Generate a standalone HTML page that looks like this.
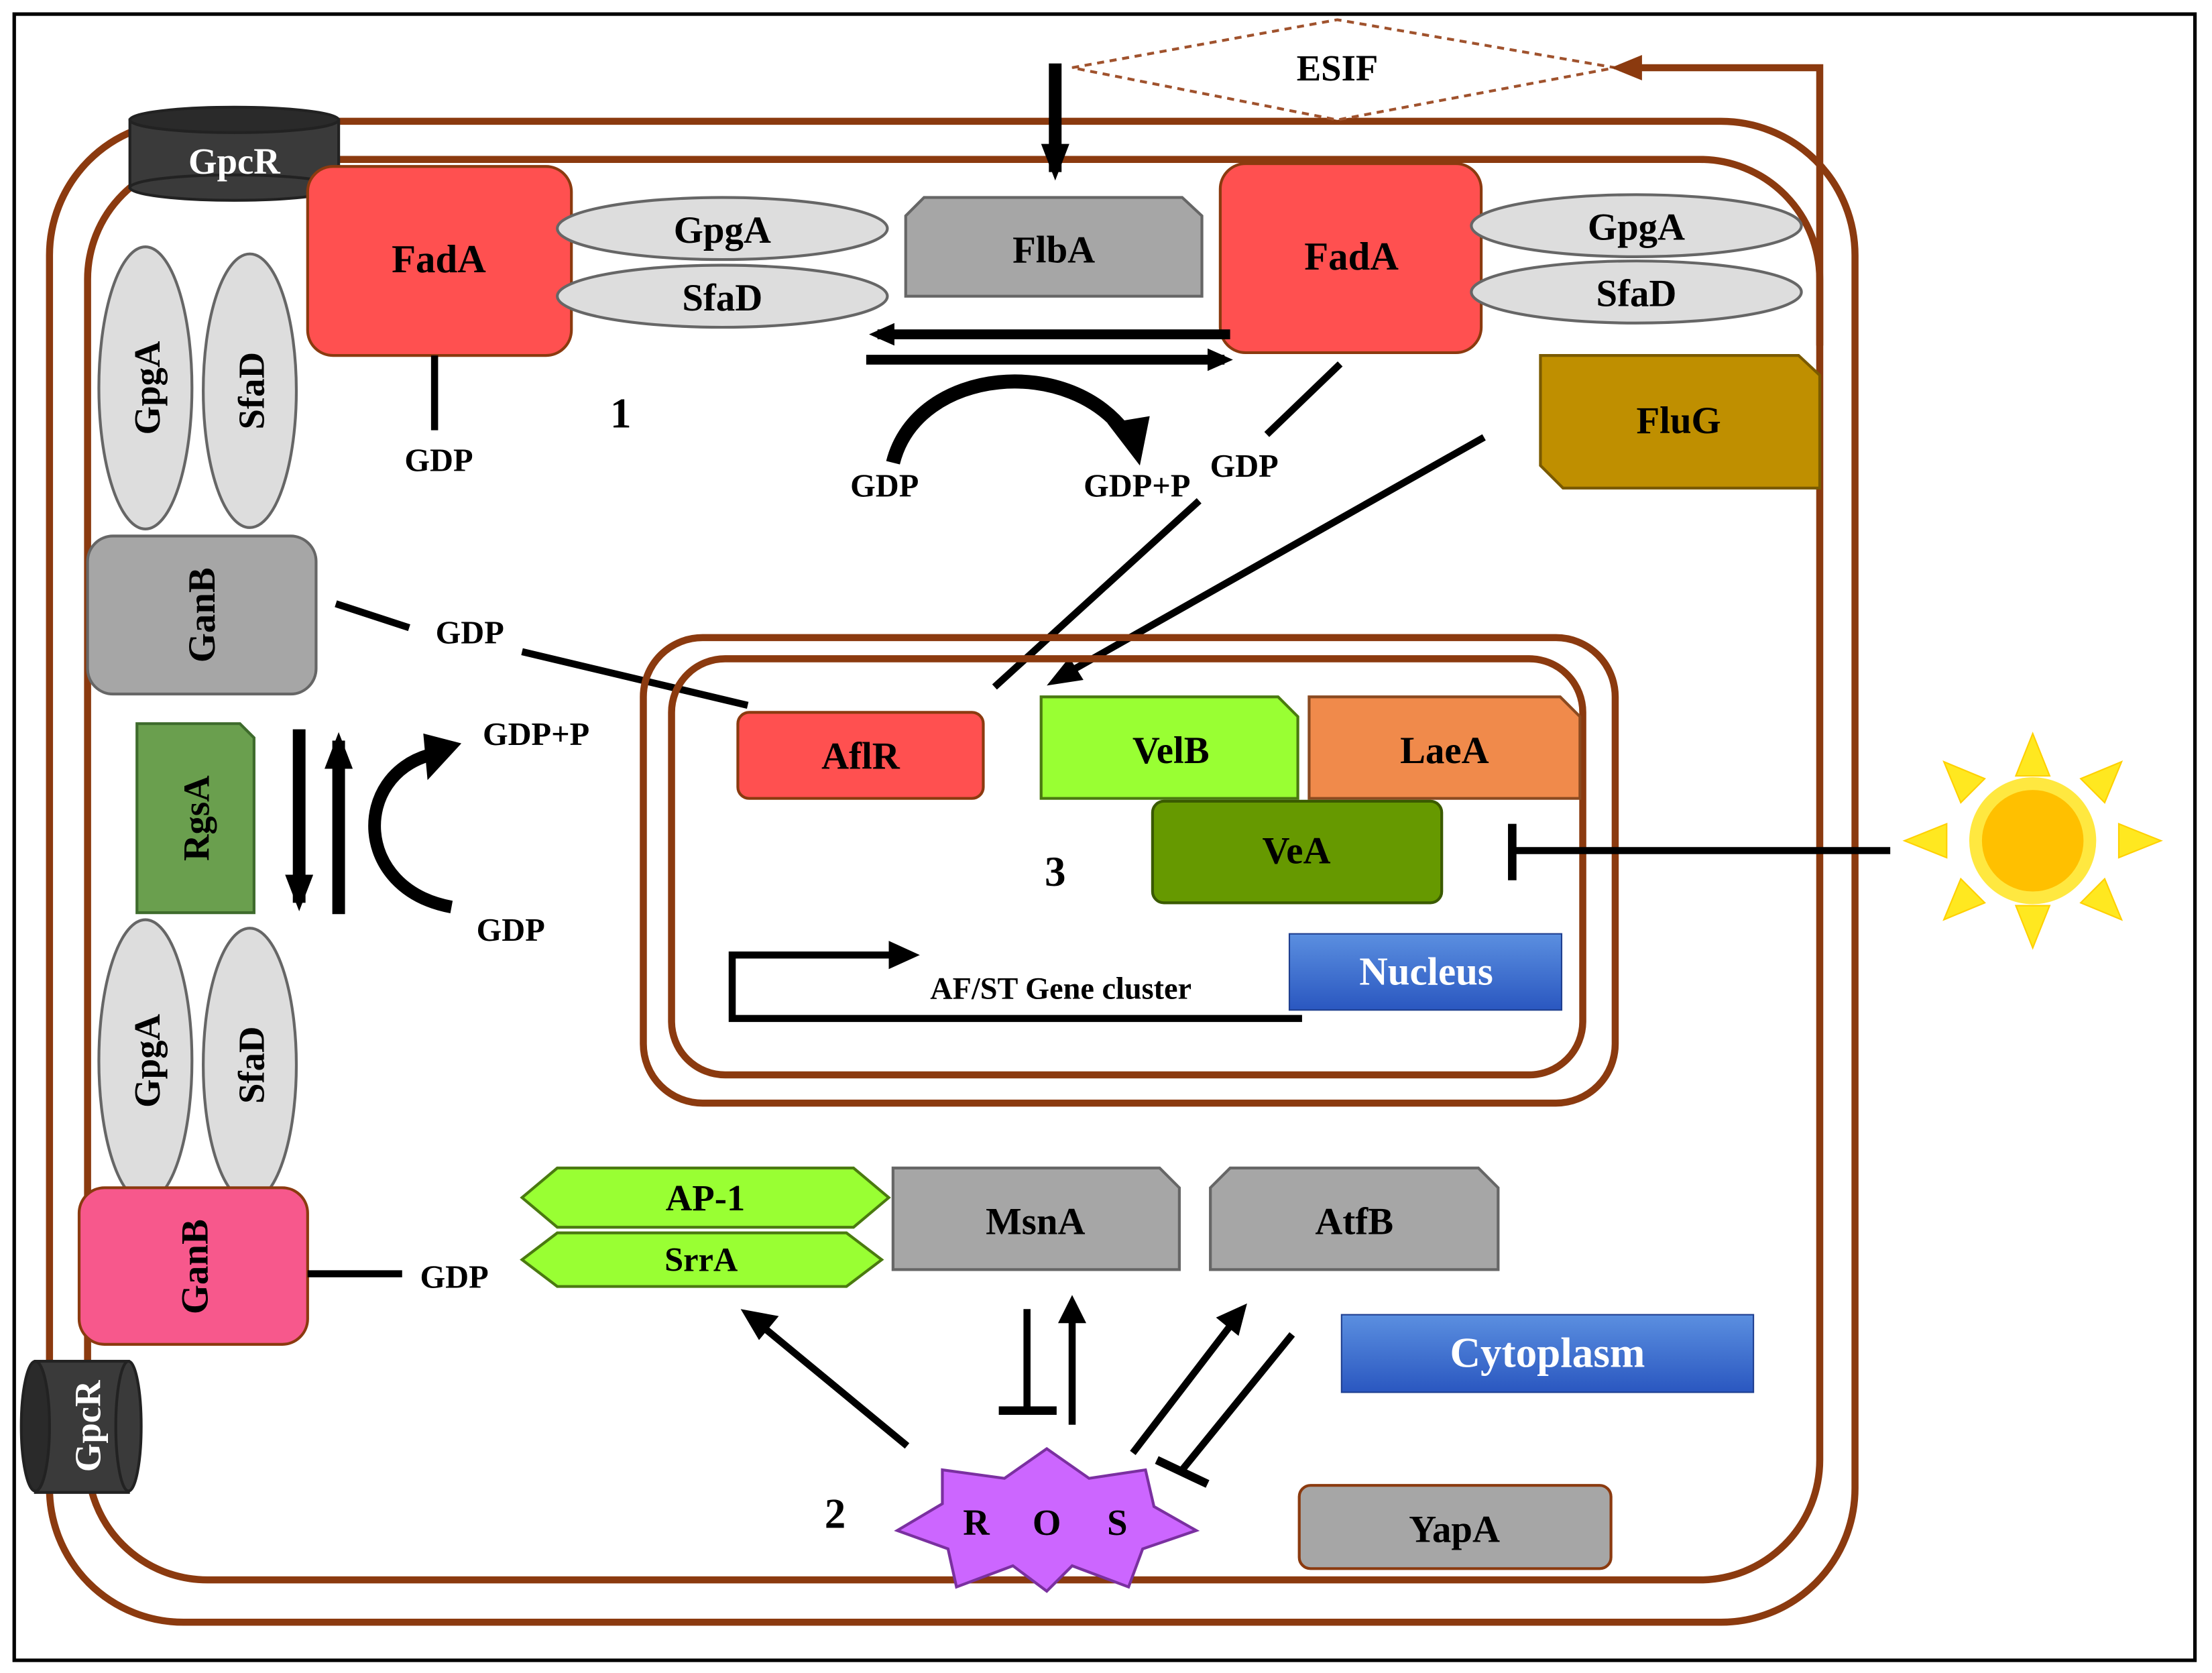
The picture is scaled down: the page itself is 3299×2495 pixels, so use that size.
<!DOCTYPE html>
<html><head><meta charset="utf-8"><style>html,body{margin:0;padding:0;background:#fff}svg{display:block}</style></head>
<body>
<svg width="3299" height="2495" viewBox="0 0 1568 1186" xmlns="http://www.w3.org/2000/svg" font-family="Liberation Serif, serif" font-weight="bold">
<defs>
<marker id="ah" markerWidth="10" markerHeight="10" refX="7" refY="5" orient="auto" markerUnits="userSpaceOnUse"><path d="M0,0 L10,5 L0,10 z" fill="#000"/></marker>
<marker id="ahm" markerWidth="18" markerHeight="16" refX="12" refY="8" orient="auto" markerUnits="userSpaceOnUse"><path d="M0,0 L18,8 L0,16 z" fill="#000"/></marker>
<marker id="ahb" markerWidth="26" markerHeight="20" refX="20" refY="10" orient="auto" markerUnits="userSpaceOnUse"><path d="M0,0 L26,10 L0,20 z" fill="#000"/></marker>
<marker id="ahbr" markerWidth="22" markerHeight="18" refX="16" refY="9" orient="auto" markerUnits="userSpaceOnUse"><path d="M0,0 L22,9 L0,18 z" fill="#8b3a0f"/></marker>
<linearGradient id="bl" x1="0" y1="0" x2="0" y2="1"><stop offset="0" stop-color="#5b8fe0"/><stop offset="1" stop-color="#2a57c0"/></linearGradient>
</defs>
<rect x="0" y="0" width="1568" height="1186" fill="#fff"/>
<rect x="10" y="10" width="1546" height="1167" fill="none" stroke="#000" stroke-width="2.5"/>
<rect x="35" y="86" width="1280" height="1064" rx="95" fill="none" stroke="#8b3a0f" stroke-width="5"/>
<rect x="62" y="113" width="1228" height="1007" rx="85" fill="none" stroke="#8b3a0f" stroke-width="5"/>
<polygon points="760,48 948,14 1145,48 948,85" fill="#fff" stroke="#a0522d" stroke-width="2" stroke-dasharray="5,4"/>
<text x="948" y="57" font-size="26" text-anchor="middle">ESIF</text>
<polyline points="1290,245 1290,48 1148,48" fill="none" stroke="#8b3a0f" stroke-width="5" marker-end="url(#ahbr)"/>
<line x1="748" y1="45" x2="748" y2="122" stroke="#000" stroke-width="9" marker-end="url(#ahb)"/>
<g>
<rect x="92" y="85" width="148" height="48" fill="#3a3a3a" stroke="#222" stroke-width="2"/>
<ellipse cx="166" cy="133" rx="74" ry="9" fill="#3a3a3a" stroke="#222" stroke-width="2"/>
<ellipse cx="166" cy="85" rx="74" ry="9" fill="#2a2a2a" stroke="#222" stroke-width="2"/>
<text x="166" y="123" font-size="26" fill="#fff" text-anchor="middle">GpcR</text>
</g>
<rect x="218" y="118" width="187" height="134" rx="18" fill="#ff5050" stroke="#8b3a0f" stroke-width="2"/>
<text x="311" y="193" font-size="28" text-anchor="middle">FadA</text>
<ellipse cx="512" cy="162" rx="117" ry="22" fill="#ddd" stroke="#666" stroke-width="2"/>
<text x="512" y="172" font-size="27" text-anchor="middle">GpgA</text>
<ellipse cx="512" cy="210" rx="117" ry="22" fill="#ddd" stroke="#666" stroke-width="2"/>
<text x="512" y="220" font-size="27" text-anchor="middle">SfaD</text>
<line x1="308" y1="252" x2="308" y2="305" stroke="#000" stroke-width="5"/>
<text x="311" y="334" font-size="23" text-anchor="middle">GDP</text>
<text x="440" y="303" font-size="30" text-anchor="middle">1</text>
<polygon points="655,140 838,140 852,153 852,210 642,210 642,153" fill="#a6a6a6" stroke="#666" stroke-width="2"/>
<text x="747" y="186" font-size="27" text-anchor="middle">FlbA</text>
<rect x="865" y="116" width="185" height="134" rx="18" fill="#ff5050" stroke="#8b3a0f" stroke-width="2"/>
<text x="958" y="191" font-size="28" text-anchor="middle">FadA</text>
<ellipse cx="1160" cy="160" rx="117" ry="22" fill="#ddd" stroke="#666" stroke-width="2"/>
<text x="1160" y="170" font-size="27" text-anchor="middle">GpgA</text>
<ellipse cx="1160" cy="207" rx="117" ry="22" fill="#ddd" stroke="#666" stroke-width="2"/>
<text x="1160" y="217" font-size="27" text-anchor="middle">SfaD</text>
<polygon points="1092,252 1275,252 1290,266 1290,346 1108,346 1092,330" fill="#bf8f00" stroke="#7a5a00" stroke-width="2"/>
<text x="1190" y="307" font-size="27" text-anchor="middle">FluG</text>
<line x1="872" y1="237" x2="622" y2="237" stroke="#000" stroke-width="7" marker-end="url(#ahm)"/>
<line x1="614" y1="255" x2="868" y2="255" stroke="#000" stroke-width="7" marker-end="url(#ahm)"/>
<path d="M633,328 C650,260 760,250 800,310" fill="none" stroke="#000" stroke-width="10"/>
<polygon points="785,300 815,295 808,330" fill="#000"/>
<text x="627" y="352" font-size="23" text-anchor="middle">GDP</text>
<text x="806" y="352" font-size="23" text-anchor="middle">GDP+P</text>
<text x="882" y="338" font-size="23" text-anchor="middle">GDP</text>
<line x1="950" y1="258" x2="898" y2="308" stroke="#000" stroke-width="5"/>
<line x1="850" y1="355" x2="705" y2="487" stroke="#000" stroke-width="5"/>
<line x1="1052" y1="310" x2="755" y2="478" stroke="#000" stroke-width="5"/>
<polygon points="742,486 758,466 768,482" fill="#000"/>
<ellipse cx="103" cy="275" rx="33" ry="100" fill="#ddd" stroke="#666" stroke-width="2"/>
<text transform="translate(113,275) rotate(-90)" font-size="26" text-anchor="middle">GpgA</text>
<ellipse cx="177" cy="277" rx="33" ry="97" fill="#ddd" stroke="#666" stroke-width="2"/>
<text transform="translate(187,277) rotate(-90)" font-size="26" text-anchor="middle">SfaD</text>
<rect x="62" y="380" width="162" height="112" rx="18" fill="#a6a6a6" stroke="#666" stroke-width="2"/>
<text transform="translate(152,436) rotate(-90)" font-size="27" text-anchor="middle">GanB</text>
<line x1="238" y1="428" x2="290" y2="445" stroke="#000" stroke-width="5"/>
<text x="333" y="456" font-size="23" text-anchor="middle">GDP</text>
<line x1="370" y1="462" x2="530" y2="500" stroke="#000" stroke-width="5"/>
<polygon points="97,513 170,513 180,523 180,647 97,647" fill="#6a9f4e" stroke="#3e6b2c" stroke-width="2"/>
<text transform="translate(148,580) rotate(-90)" font-size="26" text-anchor="middle">RgsA</text>
<line x1="212" y1="517" x2="212" y2="640" stroke="#000" stroke-width="9" marker-end="url(#ahb)"/>
<line x1="240" y1="648" x2="240" y2="525" stroke="#000" stroke-width="9" marker-end="url(#ahb)"/>
<path d="M320,643 C250,630 250,550 305,535" fill="none" stroke="#000" stroke-width="9"/>
<polygon points="300,520 327,527 303,553" fill="#000"/>
<text x="380" y="528" font-size="23" text-anchor="middle">GDP+P</text>
<text x="362" y="667" font-size="23" text-anchor="middle">GDP</text>
<ellipse cx="103" cy="752" rx="33" ry="100" fill="#ddd" stroke="#666" stroke-width="2"/>
<text transform="translate(113,752) rotate(-90)" font-size="26" text-anchor="middle">GpgA</text>
<ellipse cx="177" cy="755" rx="33" ry="97" fill="#ddd" stroke="#666" stroke-width="2"/>
<text transform="translate(187,755) rotate(-90)" font-size="26" text-anchor="middle">SfaD</text>
<rect x="56" y="842" width="162" height="111" rx="18" fill="#f7588c" stroke="#8b3a0f" stroke-width="2"/>
<text transform="translate(147,898) rotate(-90)" font-size="27" text-anchor="middle">GanB</text>
<line x1="218" y1="903" x2="285" y2="903" stroke="#000" stroke-width="5"/>
<text x="322" y="913" font-size="23" text-anchor="middle">GDP</text>
<g>
<rect x="25" y="965" width="66" height="93" fill="#3a3a3a" stroke="#222" stroke-width="2"/>
<ellipse cx="91" cy="1011" rx="9" ry="46" fill="#3a3a3a" stroke="#222" stroke-width="2"/>
<ellipse cx="25" cy="1011" rx="10" ry="46" fill="#2a2a2a" stroke="#222" stroke-width="2"/>
<text transform="translate(71,1011) rotate(-90)" font-size="26" fill="#fff" text-anchor="middle">GpcR</text>
</g>
<rect x="456" y="452" width="689" height="330" rx="42" fill="none" stroke="#8b3a0f" stroke-width="5"/>
<rect x="476" y="467" width="646" height="295" rx="38" fill="none" stroke="#8b3a0f" stroke-width="5"/>
<rect x="523" y="505" width="174" height="61" rx="8" fill="#ff5050" stroke="#8b3a0f" stroke-width="2"/>
<text x="610" y="545" font-size="27" text-anchor="middle">AflR</text>
<polygon points="738,494 906,494 920,508 920,566 738,566" fill="#99ff33" stroke="#4a7a10" stroke-width="2"/>
<text x="830" y="541" font-size="27" text-anchor="middle">VelB</text>
<polygon points="928,494 1106,494 1120,508 1120,566 928,566" fill="#f08a4b" stroke="#8b4a20" stroke-width="2"/>
<text x="1024" y="541" font-size="27" text-anchor="middle">LaeA</text>
<rect x="817" y="568" width="205" height="72" rx="8" fill="#669900" stroke="#3a5a00" stroke-width="2"/>
<text x="919" y="612" font-size="27" text-anchor="middle">VeA</text>
<text x="748" y="628" font-size="30" text-anchor="middle">3</text>
<polyline points="923,722 519,722 519,677 635,677" fill="none" stroke="#000" stroke-width="5"/>
<polygon points="630,667 652,677 630,687" fill="#000"/>
<text x="752" y="708" font-size="22" text-anchor="middle">AF/ST Gene cluster</text>
<rect x="914" y="662" width="193" height="54" fill="url(#bl)" stroke="#1f3f90" stroke-width="1"/>
<text x="1011" y="698" font-size="28" fill="#fff" text-anchor="middle">Nucleus</text>
<line x1="1340" y1="603" x2="1072" y2="603" stroke="#000" stroke-width="5"/>
<line x1="1072" y1="584" x2="1072" y2="624" stroke="#000" stroke-width="6"/>
<g fill="#ffe820" stroke="#ffd000" stroke-width="1">
<polygon points="1441,520 1453,550 1429,550"/>
<polygon points="1441,672 1453,642 1429,642"/>
<polygon points="1350,596 1380,584 1380,608"/>
<polygon points="1532,596 1502,584 1502,608"/>
<polygon points="1378,540 1407,552 1390,569"/>
<polygon points="1504,540 1475,552 1492,569"/>
<polygon points="1378,652 1407,640 1390,623"/>
<polygon points="1504,652 1475,640 1492,623"/>
</g>
<circle cx="1441" cy="596" r="45" fill="#ffe840"/>
<circle cx="1441" cy="596" r="36" fill="#ffc000"/>
<polygon points="395,828 605,828 630,849 605,870 395,870 370,849" fill="#99ff33" stroke="#4a7a10" stroke-width="2"/>
<text x="500" y="858" font-size="26" text-anchor="middle">AP-1</text>
<polygon points="395,874 600,874 625,893 600,912 395,912 370,893" fill="#99ff33" stroke="#4a7a10" stroke-width="2"/>
<text x="497" y="901" font-size="24" text-anchor="middle">SrrA</text>
<polygon points="633,828 822,828 836,842 836,900 633,900" fill="#a6a6a6" stroke="#666" stroke-width="2"/>
<text x="734" y="875" font-size="27" text-anchor="middle">MsnA</text>
<polygon points="872,828 1048,828 1062,842 1062,900 858,900 858,842" fill="#a6a6a6" stroke="#666" stroke-width="2"/>
<text x="960" y="875" font-size="27" text-anchor="middle">AtfB</text>
<rect x="951" y="932" width="292" height="55" fill="url(#bl)" stroke="#1f3f90" stroke-width="1"/>
<text x="1097" y="969" font-size="30" fill="#fff" text-anchor="middle">Cytoplasm</text>
<rect x="921" y="1053" width="221" height="59" rx="8" fill="#a6a6a6" stroke="#8b3a0f" stroke-width="2"/>
<text x="1031" y="1093" font-size="27" text-anchor="middle">YapA</text>
<polygon points="742,1027 772,1048 812,1042 818,1068 848,1085 810,1098 800,1125 760,1110 742,1128 718,1110 678,1125 672,1098 636,1085 668,1066 668,1042 712,1048" fill="#cc66ff" stroke="#7a30a0" stroke-width="2"/>
<text x="692" y="1088" font-size="26" text-anchor="middle">R</text>
<text x="742" y="1088" font-size="26" text-anchor="middle">O</text>
<text x="792" y="1088" font-size="26" text-anchor="middle">S</text>
<text x="592" y="1083" font-size="30" text-anchor="middle">2</text>
<line x1="643" y1="1025" x2="540" y2="940" stroke="#000" stroke-width="5"/>
<polygon points="525,928 552,933 538,950" fill="#000"/>
<line x1="728" y1="928" x2="728" y2="1000" stroke="#000" stroke-width="5"/>
<line x1="708" y1="1000" x2="749" y2="1000" stroke="#000" stroke-width="6"/>
<line x1="760" y1="1010" x2="760" y2="935" stroke="#000" stroke-width="5"/>
<polygon points="750,938 760,918 770,938" fill="#000"/>
<line x1="803" y1="1030" x2="872" y2="940" stroke="#000" stroke-width="5"/>
<polygon points="862,934 884,924 878,947" fill="#000"/>
<line x1="916" y1="946" x2="838" y2="1042" stroke="#000" stroke-width="5"/>
<line x1="820" y1="1035" x2="856" y2="1052" stroke="#000" stroke-width="6"/>
</svg>
</body></html>
